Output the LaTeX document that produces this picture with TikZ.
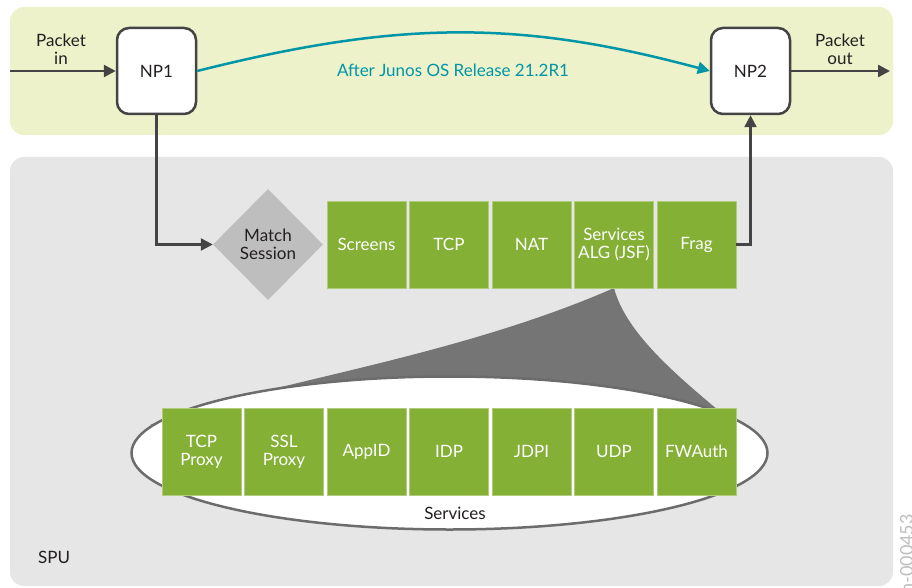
\documentclass[tikz,border=0pt]{standalone}
\usepackage{fontspec}
\setmainfont{Lato}
\usetikzlibrary{arrows.meta,shapes.geometric}
\definecolor{bandgreen}{RGB}{237,242,203}
\definecolor{bandgray}{RGB}{230,230,230}
\definecolor{boxgreen}{RGB}{132,176,54}
\definecolor{linegray}{RGB}{68,68,68}
\definecolor{conegray}{RGB}{117,117,117}
\definecolor{ellgray}{RGB}{108,108,108}
\definecolor{diagray}{RGB}{190,190,190}
\definecolor{juteal}{RGB}{0,150,168}
\definecolor{inkdark}{RGB}{35,31,32}
\definecolor{idgray}{RGB}{190,190,190}
\begin{document}
\begin{tikzpicture}[x=1pt,y=-1pt,
  font=\fontsize{17}{18}\selectfont, text=inkdark,
  npbox/.style={draw=linegray, line width=2.5pt, rounded corners=12pt, fill=white,
    minimum width=79pt, minimum height=86pt, inner sep=0pt},
  gbox/.style={fill=boxgreen, draw=boxgreen!65!white, line width=0.8pt,
    minimum width=79pt, minimum height=87pt, inner sep=0pt, text=white, align=center},
  flow/.style={draw=linegray, line width=2.5pt, -{Triangle[length=12pt,width=12pt]}},
  tealflow/.style={draw=juteal, line width=2.5pt, -{Triangle[length=12pt,width=12pt]}},
  lbl/.style={align=center, inner sep=0pt}]
\useasboundingbox (0,0) rectangle (912,588);

% background bands
\fill[bandgreen, rounded corners=14pt] (10,7) rectangle (893,135);
\fill[bandgray, rounded corners=14pt] (10,157) rectangle (893,586);

% zoom cone from the ALG box to the services ellipse
\fill[conegray] (614,288) .. controls (450,360) and (250,385) .. (150,425)
  -- (450,440) -- (718,410) .. controls (670,370) and (625,330) .. (614,288) -- cycle;

% services ellipse
\node[ellipse, draw=ellgray, line width=2.5pt, fill=white, minimum width=636pt,
  minimum height=153pt, inner sep=0pt] (svc) at (449.5,453) {};
\node[lbl] (svclabel) at (455,513) {Services};

% network processors
\node[npbox] (np1) at (156.5,71) {NP1};
\node[npbox] (np2) at (750.5,71) {NP2};
\coordinate (pin) at (10,71);
\coordinate (pout) at (890,71);
\node[lbl] (inlabel) at (61,49) {Packet\\in};
\node[lbl] (outlabel) at (840,49) {Packet\\out};

% session match
\node[diamond, fill=diagray, minimum width=110pt, minimum height=111pt, inner sep=0pt,
  align=center] (ms) at (268,244.5) {Match\\Session};

% first path stages
\node[gbox] (screens) at (366.5,244.5) {Screens};
\node[gbox] (tcp) at (449,244.5) {TCP};
\node[gbox] (nat) at (531.5,244.5) {NAT};
\node[gbox] (alg) at (614,244.5) {Services\\ALG (JSF)};
\node[gbox] (frag) at (696.5,244.5) {Frag};

% services
\node[gbox] (tcpp) at (201.5,451.5) {TCP\\Proxy};
\node[gbox] (sslp) at (284,451.5) {SSL\\Proxy};
\node[gbox] (appid) at (366.5,451.5) {AppID};
\node[gbox] (idp) at (449,451.5) {IDP};
\node[gbox] (jdpi) at (531.5,451.5) {JDPI};
\node[gbox] (udp) at (614,451.5) {UDP};
\node[gbox] (fwauth) at (696.5,451.5) {FWAuth};

% packet flow
\draw[flow] (pin) -- (np1.west);
\draw[flow] (np2.east) -- (pout);
\draw[flow] (np1.south) |- (ms.west);
\draw[flow] (frag.east) -| (np2.south);
\draw[tealflow] (np1.east) .. controls (400,20) and (520,20) .. (np2.west);
\node[lbl, text=juteal] (release) at (453,70) {After Junos OS Release 21.2R1};

\node[lbl, anchor=west] (spu) at (38,557) {SPU};
\node[inner sep=0pt, rotate=90, anchor=base east, text=idgray,
  font=\fontsize{18}{18}\selectfont] (figid) at (913,514) {jn-000453};
\end{tikzpicture}
\end{document}
